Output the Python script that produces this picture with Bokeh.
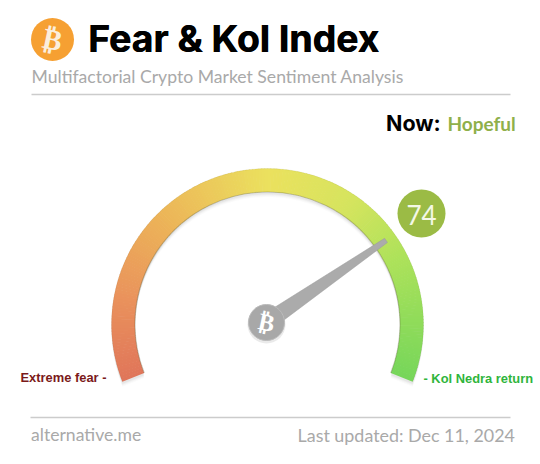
import math
from bokeh.plotting import figure
from bokeh.models import ColumnDataSource, Range1d
from bokeh.core.properties import value
from bokeh.embed import file_html
from bokeh.resources import INLINE

# --- chart values ---
index_value = 74
scale_min = 0
scale_max = 100
title = "Fear & Kol Index"
subtitle = "Multifactorial Crypto Market Sentiment Analysis"
now_label = "Now:"
now_state = "Hopeful"
low_label = "Extreme fear -"
high_label = "- Kol Nedra return"
source_label = "alternative.me"
updated_label = "Last updated: Dec 11, 2024"
gauge_stops = [0, 15, 30, 50, 65, 78, 100]
gauge_colors = ["#e0755a", "#ea945c", "#ecb458", "#ebe15e", "#d6e45e", "#aee25a", "#76d65a"]

W, H = 540, 464
def Y(v):
    return 464 - v

p = figure(width=W, height=H, output_backend="svg", toolbar_location=None,
           x_range=Range1d(0, 540), y_range=Range1d(0, 464),
           min_border=0, outline_line_color=None, background_fill_color="white",
           border_fill_color="white")
p.axis.visible = False
p.grid.visible = False

cx, cy = 267, Y(324)
r_in, r_out = 132.5, 156
a_start = math.radians(201.5)
a_end = math.radians(-21.5)

def angle(v):
    return a_start + (a_end - a_start) * (v - scale_min) / (scale_max - scale_min)

def colour(v):
    for i in range(len(gauge_stops) - 1):
        a, b = gauge_stops[i], gauge_stops[i + 1]
        if a <= v <= b:
            t = (v - a) / (b - a)
            c0, c1 = gauge_colors[i], gauge_colors[i + 1]
            rgb = [round(int(c0[j:j + 2], 16) * (1 - t) + int(c1[j:j + 2], 16) * t) for j in (1, 3, 5)]
            return "#%02x%02x%02x" % tuple(rgb)
    return gauge_colors[-1]

# soft shadow below the gauge
for off, alpha in [(5, 0.025), (4, 0.035), (3, 0.05), (2, 0.06)]:
    p.annular_wedge(x=cx, y=cy - off, inner_radius=r_in, outer_radius=r_out,
                    start_angle=a_end, end_angle=a_start,
                    fill_color="#666666", fill_alpha=alpha, line_color=None)

# gauge, one slice per half scale step
steps = [scale_min + i * 0.5 for i in range(int((scale_max - scale_min) * 2))]
src = ColumnDataSource(dict(
    start=[angle(v + 0.5) - 0.004 if v + 0.5 < scale_max else angle(v + 0.5) for v in steps],
    end=[angle(v) for v in steps],
    color=[colour(v + 0.25) for v in steps],
))
p.annular_wedge(x=cx, y=cy, inner_radius=r_in, outer_radius=r_out,
                start_angle="start", end_angle="end",
                fill_color="color", line_color=None, source=src)

# darker rim of the gauge
p.arc(x=cx, y=cy, radius=r_in, start_angle=a_end, end_angle=a_start,
      line_color="#555533", line_alpha=0.3, line_width=1.2)
p.arc(x=cx, y=cy, radius=r_out, start_angle=a_end, end_angle=a_start,
      line_color="#555533", line_alpha=0.08, line_width=1)

# needle
na = angle(index_value) - math.radians(2)
ux, uy = math.cos(na), math.sin(na)
nx, ny = -uy, ux
hx, hy = 266, Y(322)
tip = 145
p.patch(x=[hx + nx * 8.5, hx + ux * tip + nx * 2.5, hx + ux * tip - nx * 2.5, hx - nx * 8.5],
        y=[hy + ny * 8.5, hy + uy * tip + ny * 2.5, hy + uy * tip - ny * 2.5, hy - ny * 8.5],
        fill_color="#ababab", line_color="#9a9a9a", line_width=0.5)
p.scatter(x=[hx], y=[hy - 2], size=38, fill_color="#888888", fill_alpha=0.18, line_color=None)
p.scatter(x=[hx], y=[hy], size=36, fill_color="#a8a8a8", line_color="#bbbbbb", line_width=1)
p.text(x=[hx], y=[hy], text=["₿"], text_font=value("DejaVu Sans"), text_font_size="24px", text_font_style="bold",
       text_color="white", text_align="center", text_baseline="middle", angle=math.radians(-12))

# value badge
p.scatter(x=[421], y=[Y(213)], size=48, fill_color="#9bbb45", line_color=None)
p.text(x=[421], y=[Y(214)], text=[str(index_value)], text_font=value("Lato"), text_font_size="26px",
       text_color="#f4f8e6", text_align="center", text_baseline="middle")

# header
p.scatter(x=[52], y=[Y(39)], size=43, fill_color="#f6a032", line_color=None)
p.text(x=[52], y=[Y(39)], text=["₿"], text_font=value("DejaVu Sans"), text_font_size="29px", text_font_style="bold",
       text_color="#fbeedd", text_align="center", text_baseline="middle", angle=math.radians(-12))

def label(x, y, s, font, size, color, style="normal", align="left"):
    p.text(x=[x], y=[Y(y)], text=[s], text_font=value(font), text_font_size=size, text_color=color,
           text_font_style=style, text_align=align, text_baseline="middle")

label(87.5, 38, title, "Inter", "37.4px", "#000000", "bold")
label(88.1, 38, title, "Inter", "37.4px", "#000000", "bold")
label(31, 76, subtitle, "Lato", "17.6px", "#a9a9a9")
p.line(x=[31, 510], y=[Y(94), Y(94)], line_color="#cccccc", line_width=1.5)
label(385.5, 122, now_label, "Inter", "21.5px", "#000000", "bold")
label(447, 123, now_state, "Lato", "19px", "#8fb04a", "bold")
label(20, 376.5, low_label, "Liberation Sans", "12.9px", "#7b1a1a", "bold")
label(423, 378, high_label, "Liberation Sans", "12.9px", "#2fb53c", "bold")
p.line(x=[30, 510], y=[Y(417), Y(417)], line_color="#cccccc", line_width=1.5)
label(30.5, 434, source_label, "Lato", "17.6px", "#a9a9a9")
label(514.5, 434, updated_label, "Lato", "17.9px", "#a9a9a9", align="right")

open("out.html", "w").write(file_html(p, INLINE))
